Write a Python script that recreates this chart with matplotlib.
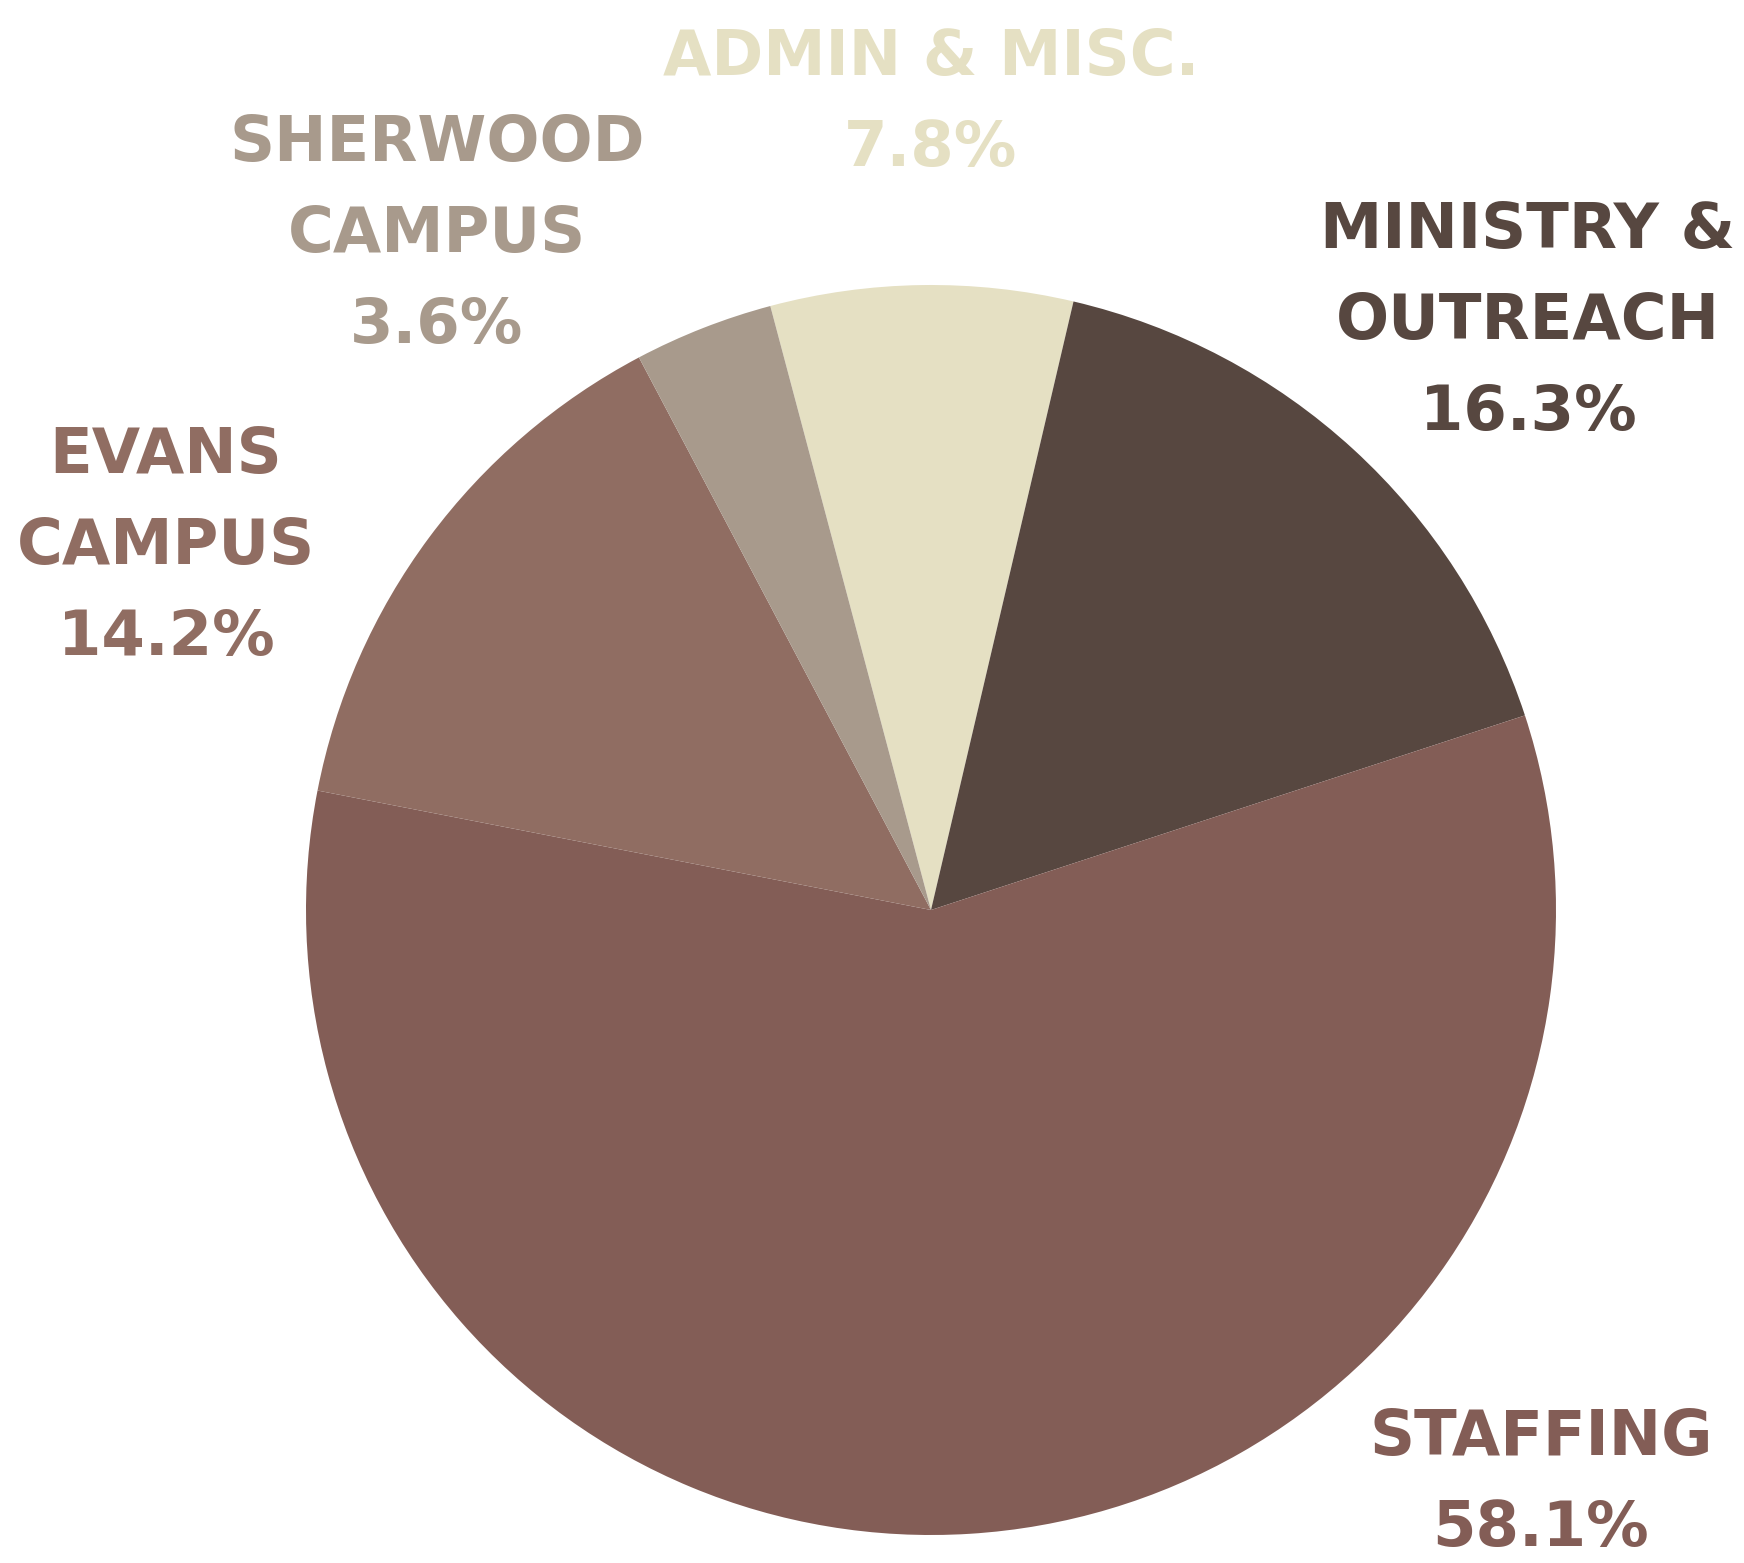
import numpy as np
import matplotlib.pyplot as plt

# budget share, % (clockwise from the top)
categories = ['ADMIN & MISC.', 'MINISTRY &\nOUTREACH', 'STAFFING', 'EVANS\nCAMPUS', 'SHERWOOD\nCAMPUS']
shares = [7.8, 16.3, 58.1, 14.2, 3.6]
colors = ['#E5E0C3', '#574740', '#835D56', '#906D62', '#A89A8C']

W, H = 1744, 1563
fig = plt.figure(figsize=(W / 100, H / 100), dpi=100)
ax = fig.add_axes([0, 0, 1, 1])

cx, cy, r = 931, H - 910, 625
ax.pie(shares, colors=colors, startangle=104.9, counterclock=False,
       center=(cx, cy), radius=r, frame=True,
       wedgeprops=dict(linewidth=0))
ax.set_xlim(0, W)
ax.set_ylim(0, H)
ax.set_aspect('equal')
ax.axis('off')

# label anchor (x centre, baseline of first line) in pixel coords from the top
label_pos = [(931, 75), (1528, 248), (1541, 1455), (166, 473), (437, 161)]
step = 91

for name, val, col, (x, y0) in zip(categories, shares, colors, label_pos):
    lines = name.split('\n') + [f'{val}%']
    for i, line in enumerate(lines):
        ax.text(x, H - (y0 + i * step), line, ha='center', va='baseline',
                fontsize=45, fontweight='bold', color=col, family='DejaVu Sans')

fig.savefig('out.png', dpi=100, facecolor='white')
